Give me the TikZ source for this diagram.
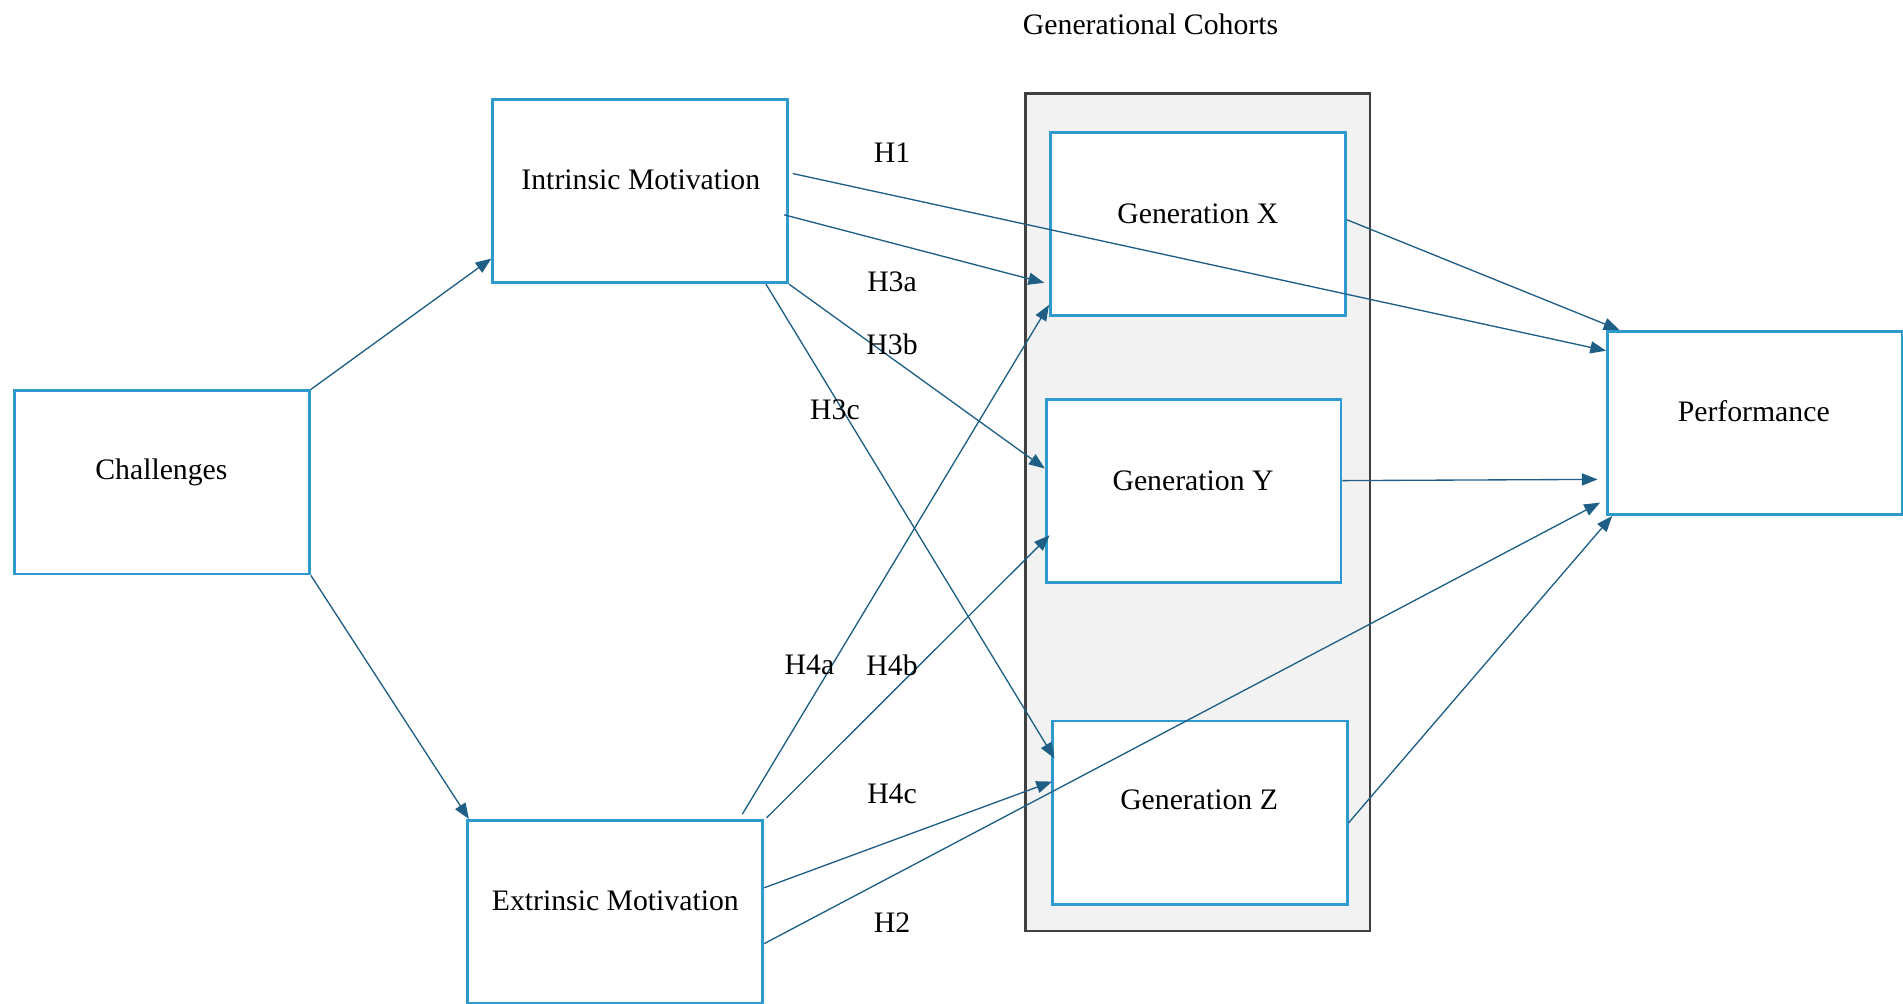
\documentclass[tikz,border=0pt]{standalone}
\usepackage{fontspec}
\setmainfont{Liberation Serif}
\usetikzlibrary{arrows.meta}
\definecolor{boxblue}{HTML}{2E9AD0}
\definecolor{arrblue}{HTML}{1F5F86}
\definecolor{panelgray}{HTML}{F2F2F2}
\definecolor{paneledge}{HTML}{404040}
\tikzset{
  boxnode/.style={draw=boxblue, line width=2.3pt, fill=white, minimum width=243pt, minimum height=151pt, inner sep=0pt},
  txt/.style={font=\fontsize{24.5}{28}\selectfont, text=black, inner sep=0pt},
  conn/.style={draw=arrblue, line width=1.1pt, -{Triangle[length=13pt,width=10pt]}},
}
\begin{document}
\begin{tikzpicture}[x=1pt,y=-1pt]
\useasboundingbox (0,0) rectangle (1568,827);
% container
\node[draw=paneledge, line width=2pt, fill=panelgray, minimum width=284pt, minimum height=690pt, inner sep=0pt] (panel) at (987,422) {};
\node[txt] (title) at (948,20) {Generational Cohorts};
% boxes
\node[boxnode] (ch) at (133.5,397.5) {};
\node[boxnode] (im) at (527.5,157.5) {};
\node[boxnode] (em) at (507,751.5) {};
\node[boxnode] (gx) at (987,184.5) {};
\node[boxnode] (gy) at (983.5,404.5) {};
\node[boxnode] (gz) at (988.5,669.5) {};
\node[boxnode] (pf) at (1446,348.5) {};
% box texts
\node[txt] (cht) at (133,389) {Challenges};
\node[txt] (imt) at (528,148) {Intrinsic Motivation};
\node[txt] (emt) at (507,742) {Extrinsic Motivation};
\node[txt] (gxt) at (987,176) {Generation X};
\node[txt] (gyt) at (983,396) {Generation Y};
\node[txt] (gzt) at (988,659) {Generation Z};
\node[txt] (pft) at (1445,339) {Performance};
% connectors
\draw[conn] (ch.north east) -- ([yshift=-55.5pt]im.west);
\draw[conn] (ch.south east) -- ([xshift=2pt]em.north west);
\draw[conn] ([xshift=3pt,yshift=14.5pt]im.east) -- ([yshift=59.5pt]pf.west);
\draw[conn] ([xshift=-4pt,yshift=-19.5pt]im.east) -- ([xshift=-4pt,yshift=-48.5pt]gx.west);
\draw[conn] (im.south east) -- ([yshift=18.5pt]gy.west);
\draw[conn] ([xshift=-19pt]im.south east) -- ([xshift=3pt,yshift=-32pt]gz.north west);
\draw[conn] ([xshift=-18pt,yshift=4pt]em.north east) -- ([yshift=10pt]gx.south west);
\draw[conn] ([xshift=2pt,yshift=1pt]em.north east) -- ([xshift=4pt,yshift=-36.5pt]gy.west);
\draw[conn] ([yshift=20pt]em.east) -- ([xshift=1pt,yshift=25.5pt]gz.west);
\draw[conn] ([yshift=-26pt]em.east) -- ([xshift=-5pt,yshift=11pt]pf.south west);
\draw[conn] ([yshift=3.5pt]gx.east) -- ([xshift=11pt]pf.north west);
\draw[conn] ([yshift=8.5pt]gy.east) -- ([xshift=-7pt,yshift=-46.5pt]pf.west);
\draw[conn] ([yshift=-8.5pt]gz.east) -- ([xshift=5pt]pf.south west);
% hypothesis labels
\node[txt] (h1) at (735,126) {H1};
\node[txt] (h3a) at (735,232) {H3a};
\node[txt] (h3b) at (735,284) {H3b};
\node[txt] (h3c) at (688,338) {H3c};
\node[txt] (h4a) at (667,548) {H4a};
\node[txt] (h4b) at (735,548) {H4b};
\node[txt] (h4c) at (735,654) {H4c};
\node[txt] (h2) at (735,760) {H2};
\end{tikzpicture}
\end{document}
